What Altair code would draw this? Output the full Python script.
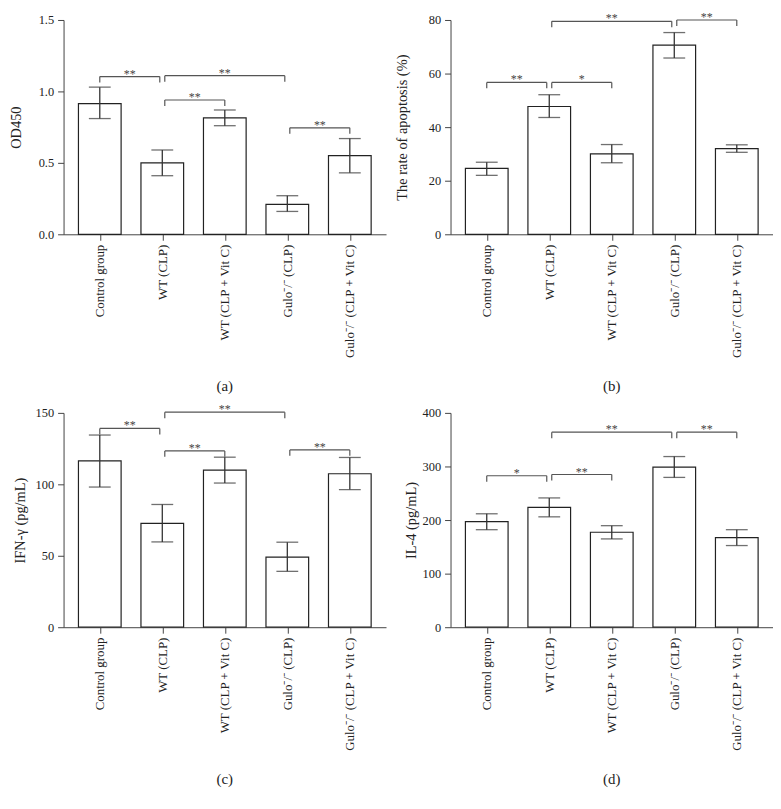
import json
import altair as alt
import pandas as pd

groups = ["Control group", "WT (CLP)", "WT (CLP + Vit C)",
          "Gulo\u207b/\u207b (CLP)", "Gulo\u207b/\u207b (CLP + Vit C)"]

# (a) OD450
od_mean = [0.915, 0.50, 0.815, 0.21, 0.55]
od_lo = [0.81, 0.41, 0.76, 0.16, 0.43]
od_hi = [1.03, 0.59, 0.87, 0.27, 0.67]
od_sig_from = [0, 1, 1, 3]
od_sig_to = [1, 3, 2, 4]
od_sig_y = [1.104, 1.11, 0.94, 0.745]
od_sig_txt = ["**", "**", "**", "**"]

# (b) apoptosis rate
apo_mean = [24.6, 47.7, 30.0, 70.6, 32.0]
apo_lo = [22.0, 43.6, 26.7, 65.8, 30.6]
apo_hi = [26.9, 52.1, 33.5, 75.3, 33.4]
apo_sig_from = [0, 1, 1, 3]
apo_sig_to = [1, 2, 3, 4]
apo_sig_y = [56.7, 56.7, 79.5, 80.0]
apo_sig_txt = ["**", "*", "**", "**"]

# (c) IFN-gamma
ifn_mean = [116.4, 72.7, 110.0, 49.1, 107.4]
ifn_lo = [98.1, 59.7, 100.9, 39.1, 96.3]
ifn_hi = [134.5, 85.9, 119.0, 59.5, 118.8]
ifn_sig_from = [0, 1, 1, 3]
ifn_sig_to = [1, 3, 2, 4]
ifn_sig_y = [139.1, 150.5, 123.4, 124.1]
ifn_sig_txt = ["**", "**", "**", "**"]

# (d) IL-4
il4_mean = [196.9, 223.5, 177.2, 298.8, 167.2]
il4_lo = [182.0, 206.0, 164.8, 279.6, 152.4]
il4_hi = [211.7, 241.3, 189.5, 318.5, 182.0]
il4_sig_from = [0, 1, 1, 3]
il4_sig_to = [1, 2, 3, 4]
il4_sig_y = [282.7, 285.0, 364.0, 364.0]
il4_sig_txt = ["*", "**", "**", "**"]

SERIF = "Liberation Serif"
W, H = 325, 216
label_expr = json.dumps(groups) + "[datum.value]"


def panel(mean, lo, hi, sfrom, sto, sy, stxt, dmax, yticks, fmt, ytitle, caption, tpad):
    bars = pd.DataFrame({"i": list(range(len(groups))), "v": mean, "lo": lo, "hi": hi})
    allidx = sfrom + sto
    shared = {k for k in allidx if allidx.count(k) > 1}
    gap = 0.04
    drop = dmax * 6.0 / H
    rows = []
    for a, b, y, t in zip(sfrom, sto, sy, stxt):
        xa = a + (gap if a in shared else 0)
        xb = b - (gap if b in shared else 0)
        rows.append({"x1": xa, "x2": xb, "y": y, "ylow": y - drop, "xm": (xa + xb) / 2, "t": t})
    sig = pd.DataFrame(rows)

    xs = alt.Scale(domain=[-0.5, 4.5], nice=False, zero=False)
    ys = alt.Scale(domain=[0, dmax], nice=False)
    xaxis = alt.Axis(values=[0, 1, 2, 3, 4], labelExpr=label_expr, labelAngle=270,
                     labelFont=SERIF, labelFontSize=13, labelColor="#222",
                     labelPadding=4, tickSize=6, tickColor="#444", domainColor="#444",
                     grid=False, title=None, labelOverlap=False)
    yaxis = alt.Axis(values=yticks, format=fmt, labelFont=SERIF, labelFontSize=12.5,
                     labelColor="#222", labelPadding=4, tickSize=6, tickColor="#444",
                     domainColor="#444", grid=False, title=ytitle, titleFont=SERIF,
                     titleFontSize=14.5, titleFontWeight="normal", titleColor="#222",
                     titlePadding=tpad)

    base = alt.Chart(bars)
    b = base.mark_bar(size=43, fill="white", stroke="#222", strokeWidth=1.2).encode(
        x=alt.X("i:Q", scale=xs, axis=xaxis),
        y=alt.Y("v:Q", scale=ys, axis=yaxis),
    )
    err = base.mark_rule(color="#333", strokeWidth=1.3).encode(
        x="i:Q", y="lo:Q", y2="hi:Q")
    cap_lo = base.mark_tick(orient="horizontal", size=22, thickness=1.3, color="#333").encode(
        x="i:Q", y="lo:Q")
    cap_hi = base.mark_tick(orient="horizontal", size=22, thickness=1.3, color="#333").encode(
        x="i:Q", y="hi:Q")

    sbase = alt.Chart(sig)
    hline = sbase.mark_rule(color="#555", strokeWidth=1.2).encode(
        x="x1:Q", x2="x2:Q", y="y:Q")
    lt = sbase.mark_rule(color="#555", strokeWidth=1.2).encode(
        x="x1:Q", y="ylow:Q", y2="y:Q")
    rt = sbase.mark_rule(color="#555", strokeWidth=1.2).encode(
        x="x2:Q", y="ylow:Q", y2="y:Q")
    txt = sbase.mark_text(font=SERIF, fontSize=12, color="#444", baseline="alphabetic", dy=1).encode(
        x="xm:Q", y="y:Q", text="t:N")

    return alt.layer(b, err, cap_lo, cap_hi, hline, lt, rt, txt).properties(
        width=W, height=H,
        title=alt.TitleParams(caption, orient="bottom", anchor="middle", font=SERIF,
                              fontSize=15, fontWeight="normal", color="#222", offset=21),
    )


pa = panel(od_mean, od_lo, od_hi, od_sig_from, od_sig_to, od_sig_y, od_sig_txt,
           1.5, [0, 0.5, 1.0, 1.5], ".1f", "OD450", "(a)", 15)
pb = panel(apo_mean, apo_lo, apo_hi, apo_sig_from, apo_sig_to, apo_sig_y, apo_sig_txt,
           80, [0, 20, 40, 60, 80], "d", "The rate of apoptosis (%)", "(b)", 19)
pc = panel(ifn_mean, ifn_lo, ifn_hi, ifn_sig_from, ifn_sig_to, ifn_sig_y, ifn_sig_txt,
           150, [0, 50, 100, 150], "d", "IFN-\u03b3 (pg/mL)", "(c)", 8)
pd_ = panel(il4_mean, il4_lo, il4_hi, il4_sig_from, il4_sig_to, il4_sig_y, il4_sig_txt,
            400, [0, 100, 200, 300, 400], "d", "IL-4 (pg/mL)", "(d)", 4)

chart = alt.concat(
    pa, pb, pc, pd_, columns=2,
    spacing={"row": 180, "column": 65}, bounds="flush",
).properties(
    padding={"left": 0, "top": 0, "right": 0, "bottom": 0}
).configure_view(stroke=None)

chart.save("out.html", embed_options={"renderer": "svg", "actions": False})
